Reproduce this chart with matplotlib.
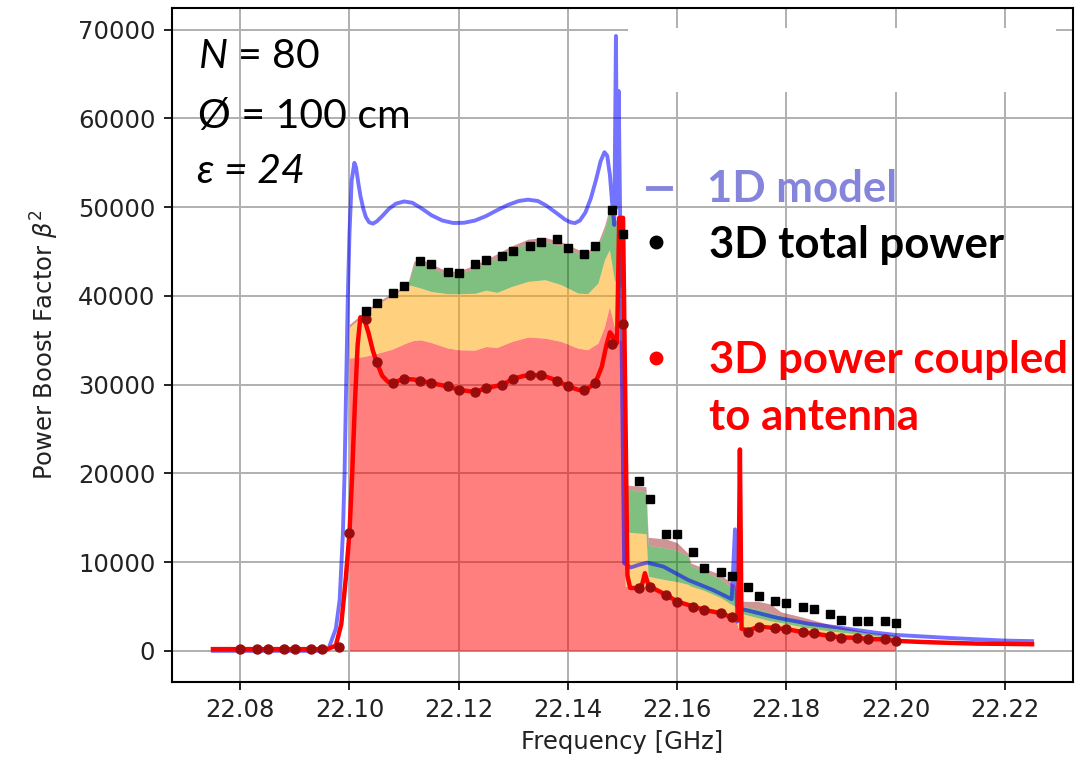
import matplotlib
matplotlib.use("Agg")
import matplotlib.pyplot as plt
from matplotlib.lines import Line2D
from matplotlib.patches import Rectangle


# 3D simulation grid (GHz)
freq_3d = [22.080, 22.083, 22.085, 22.088, 22.090, 22.093, 22.095, 22.098,
           22.100, 22.103, 22.105, 22.108, 22.110, 22.113, 22.115, 22.118,
           22.120, 22.123, 22.125, 22.128, 22.130, 22.133, 22.135, 22.138,
           22.140, 22.143, 22.145, 22.148, 22.150, 22.153, 22.155, 22.158,
           22.160, 22.163, 22.165, 22.168, 22.170, 22.173, 22.175, 22.178,
           22.180, 22.183, 22.185, 22.188, 22.190, 22.193, 22.195, 22.198,
           22.200]

coupled_3d = [200, 200, 200, 200, 200, 200, 200, 400,
              13300, 37400, 32500, 30180, 30670, 30470, 30180, 29800,
              29430, 29170, 29620, 29990, 30670, 31040, 31040, 30470,
              29800, 29430, 30180, 34610, 36830, 7070, 7250, 6310,
              5560, 5000, 4620, 4250, 3800, 2150, 2740, 2560,
              2450, 2120, 1960, 1690, 1500, 1500, 1300, 1350,
              1130]

freq_total = freq_3d[9:]
total_3d = [38250, 39260, 40320, 41140, 43990, 43590, 42730,
            42530, 43590, 44000, 44450, 45020, 45580, 46030, 46450,
            45400, 44760, 45580, 49720, 46980, 19170, 17100, 13190,
            13190, 11130, 9320, 8870, 8490, 7250, 6240, 5640,
            5420, 5000, 4760, 4170, 3530, 3360, 3360, 3380,
            3190]

# 1D model curve
freq_1d = [22.075, 22.0955, 22.0962, 22.0975, 22.0982, 22.0988, 22.0991, 22.0994,
           22.0997, 22.1000, 22.1004, 22.1009, 22.1012, 22.1016, 22.1020, 22.1025,
           22.1030, 22.1036, 22.1043, 22.1050, 22.1060, 22.1072, 22.1085, 22.1100,
           22.1115, 22.1130, 22.1150, 22.1170, 22.1190, 22.1210, 22.1230, 22.1250,
           22.1270, 22.1290, 22.1310, 22.1327, 22.1345, 22.1360, 22.1380, 22.1395,
           22.1405, 22.1413, 22.1422, 22.1432, 22.1442, 22.1452, 22.1460, 22.1467,
           22.1472, 22.1477, 22.1481, 22.1485, 22.1488, 22.1490, 22.1493, 22.1503,
           22.1515, 22.1530, 22.1545, 22.1575, 22.1620, 22.1665, 22.1700, 22.1706,
           22.1710, 22.1716, 22.1725, 22.1782, 22.1842, 22.1900, 22.1964, 22.2000,
           22.2100, 22.2200, 22.2250]
boost_1d = [0, 0, 300, 2500, 5750, 13270, 20000, 30180,
            40000, 47000, 53000, 55000, 54500, 52800, 51300, 49900,
            48900, 48300, 48150, 48400, 49000, 49800, 50400, 50650,
            50500, 49950, 49100, 48500, 48220, 48250, 48500, 49000,
            49650, 50250, 50700, 50850, 50700, 50200, 49300, 48600,
            48300, 48210, 48500, 49400, 51000, 53200, 55200, 56200,
            55800, 53600, 50500, 48000, 69300, 50000, 63100, 9900,
            9400, 9700, 9950, 9500, 8000, 6880, 5830, 13700,
            3300, 4700, 4620, 3750, 3050, 2600, 2050, 1800,
            1450, 1160, 1100]

# 3D coupled power, fine curve
freq_cpl = [22.075, 22.0960, 22.0975, 22.0985, 22.0993, 22.1000, 22.1005, 22.1010,
            22.1015, 22.1020, 22.1027, 22.1035, 22.1043, 22.1050, 22.1060, 22.1070,
            22.1080, 22.1090, 22.1100, 22.1115, 22.1130, 22.1150, 22.1180, 22.1200,
            22.1230, 22.1250, 22.1280, 22.1300, 22.1320, 22.1340, 22.1360, 22.1380,
            22.1400, 22.1420, 22.1435, 22.1450, 22.1462, 22.1470, 22.1477, 22.1482,
            22.1486, 22.1490, 22.1494, 22.1501, 22.1509, 22.1514, 22.1530, 22.1536,
            22.1541, 22.1546, 22.1550, 22.1580, 22.1600, 22.1630, 22.1650, 22.1680,
            22.1700, 22.1712, 22.1715, 22.1718, 22.1730, 22.1750, 22.1780, 22.1800,
            22.1830, 22.1850, 22.1880, 22.1900, 22.1930, 22.1950, 22.1980, 22.2000,
            22.2050, 22.2100, 22.2150, 22.2200, 22.2250]
boost_cpl = [200, 200, 600, 3000, 8000, 13300, 20000, 28000,
             34500, 37600, 37400, 35800, 33800, 32500, 31000, 30350,
             30180, 30450, 30670, 30600, 30470, 30180, 29800, 29430,
             29170, 29620, 29990, 30670, 31000, 31080, 30900, 30470,
             29800, 29400, 29500, 30180, 32000, 34300, 35900, 35500,
             34600, 34700, 48800, 48800, 8500, 7100, 7070, 7500,
             8760, 7700, 7250, 6310, 5560, 5000, 4620, 4250,
             3800, 3500, 22700, 2500, 2300, 2740, 2560, 2450,
             2120, 1960, 1690, 1520, 1480, 1330, 1300, 1130,
             1000, 900, 820, 790, 750]

# stacked mode contributions (upper edge of each band)
freq_band = [22.1000, 22.1027, 22.1049, 22.1078, 22.1100, 22.1108, 22.1118, 22.1130,
             22.1150, 22.1180, 22.1200, 22.1230, 22.1250, 22.1270, 22.1297, 22.1327,
             22.1358, 22.1388, 22.1418, 22.1436, 22.1455, 22.1467, 22.1476, 22.1485,
             22.1492, 22.1500, 22.1505, 22.1543, 22.1547, 22.1580, 22.1600, 22.1620,
             22.1625, 22.1650, 22.1680, 22.1700, 22.1705, 22.1712, 22.1750, 22.1770,
             22.1790, 22.1830, 22.1880, 22.1950, 22.2000]
band_red = [33000, 33180, 33500, 34000, 34600, 34800, 35000, 35060,
            34750, 34130, 33940, 33900, 34300, 34200, 34870, 35370,
            35250, 34870, 34130, 33940, 34690, 36560, 38820, 36560,
            35060, 35000, 7300, 7100, 7000, 6300, 5800, 5400,
            5300, 4800, 4200, 3900, 3800, 2600, 2450, 2370,
            2300, 2050, 1700, 1400, 1200]
band_orange = [36500, 37880, 39000, 40020, 40890, 41260, 41100, 40900,
               40500, 40250, 40250, 40300, 40650, 40400, 41070, 41640,
               41830, 41260, 40330, 40250, 41450, 44080, 45210, 41830,
               41000, 41000, 13400, 13200, 8400, 8000, 7800, 7500,
               7300, 6800, 6000, 5200, 5100, 4300, 3700, 3400,
               3200, 2700, 2250, 1750, 1500]
band_green = [36500, 37880, 39000, 40020, 40890, 41400, 43500, 43890,
              43140, 42390, 42500, 43140, 43700, 44300, 45210, 45960,
              46140, 45660, 44840, 44640, 45580, 47460, 49530, 48590,
              47500, 47000, 18300, 17900, 11900, 11600, 11300, 10700,
              9600, 8900, 8100, 7100, 7000, 5100, 4700, 4300,
              3950, 3300, 2700, 2000, 1700]
band_brown = [36800, 38200, 39250, 40300, 41100, 41700, 43900, 44200,
              43600, 42750, 42800, 43500, 44100, 44750, 45650, 46400,
              46600, 46100, 45250, 45000, 46000, 47900, 49900, 49000,
              48000, 47400, 18700, 18500, 12800, 12600, 12200, 11000,
              9900, 9300, 8600, 7600, 7500, 5600, 5560, 5300,
              4400, 3800, 2950, 2100, 1800]


W, H = 1083, 759
fig = plt.figure(figsize=(W / 100, H / 100), dpi=100)
ax = fig.add_axes([172 / W, 1 - 681.5 / H, 901 / W, 673.5 / H])

ax.set_axisbelow(True)
ax.grid(True, color='#b0b0b0', linewidth=1.4)

# stacked fills
ax.fill_between(freq_band, 0, band_red, color='red', alpha=0.5, linewidth=0, zorder=1)
ax.fill_between(freq_band, band_red, band_orange, color='orange', alpha=0.5, linewidth=0, zorder=1)
ax.fill_between(freq_band, band_orange, band_green, color='green', alpha=0.5, linewidth=0, zorder=1)
ax.fill_between(freq_band, band_green, band_brown, color='brown', alpha=0.5, linewidth=0, zorder=1)

ax.plot(freq_1d, boost_1d, color='blue', alpha=0.55, linewidth=2.8, zorder=2)
ax.plot(freq_cpl, boost_cpl, color='red', linewidth=3.2, zorder=3)
ax.plot(freq_3d, coupled_3d, 'o', color='#9a0c0c', markersize=6.5, zorder=4)
ax.plot(freq_total, total_3d, 's', color='black', markersize=5.5, zorder=5)

ax.set_xlim(22.0675, 22.2325)
ax.set_ylim(-3450, 72450)
ax.set_xticks([22.08, 22.10, 22.12, 22.14, 22.16, 22.18, 22.20, 22.22])
ax.set_xticklabels(['22.08', '22.10', '22.12', '22.14', '22.16', '22.18', '22.20', '22.22'])
ax.set_yticks(range(0, 70001, 10000))

ax.tick_params(labelsize=17.5, length=6, width=1.4, pad=6, colors='#222222')
for sp in ax.spines.values():
    sp.set_linewidth(1.5)

ax.set_xlabel('Frequency [GHz]', fontsize=17.5, color='#222222', labelpad=6)
ax.set_ylabel(r'Power Boost Factor $\beta^2$', fontsize=17.5, color='#222222', labelpad=12)

# white box pasted over the top right of the plot
fig.add_artist(Rectangle((628 / W, 1 - 92 / H), 428 / W, 64 / H,
                         transform=fig.transFigure, facecolor='white',
                         edgecolor='none', zorder=10))

# parameters
plt.rcParams['mathtext.fontset'] = 'custom'
plt.rcParams['mathtext.it'] = 'Lato:italic'
plt.rcParams['mathtext.rm'] = 'Lato'
ann_font = dict(fontsize=29.5, family=['Lato', 'DejaVu Sans'], va='baseline', ha='left', zorder=11)
fig.text(198 / W, 1 - 68 / H, '$N$ = 80', math_fontfamily='custom', **ann_font)
fig.text(198 / W, 1 - 128 / H, 'Ø = 100 cm', **ann_font)
fig.text(197 / W, 1 - 183 / H, 'ε = 24', style='italic', **ann_font)

# hand made legend
lav = '#8585dc'
fig.add_artist(Line2D([648 / W, 670 / W], [1 - 188 / H, 1 - 188 / H], color=lav,
                      linewidth=3.5, transform=fig.transFigure, zorder=11))
fig.add_artist(Line2D([656 / W], [1 - 242 / H], marker='o', markersize=9, color='black',
                      linestyle='none', transform=fig.transFigure, zorder=11))
fig.add_artist(Line2D([656 / W], [1 - 358 / H], marker='o', markersize=9, color='red',
                      linestyle='none', transform=fig.transFigure, zorder=11))

leg_font = dict(fontsize=31.5, fontweight='bold', family=['Lato', 'DejaVu Sans'],
                va='baseline', ha='left', zorder=11)
fig.text(707 / W, 1 - 202 / H, '1D model', color=lav, **leg_font)
fig.text(709 / W, 1 - 258 / H, '3D total power', color='black', **leg_font)
fig.text(709 / W, 1 - 373 / H, '3D power coupled', color='red', **leg_font)
fig.text(709 / W, 1 - 430 / H, 'to antenna', color='red', **leg_font)

fig.savefig('out.png', dpi=100)
